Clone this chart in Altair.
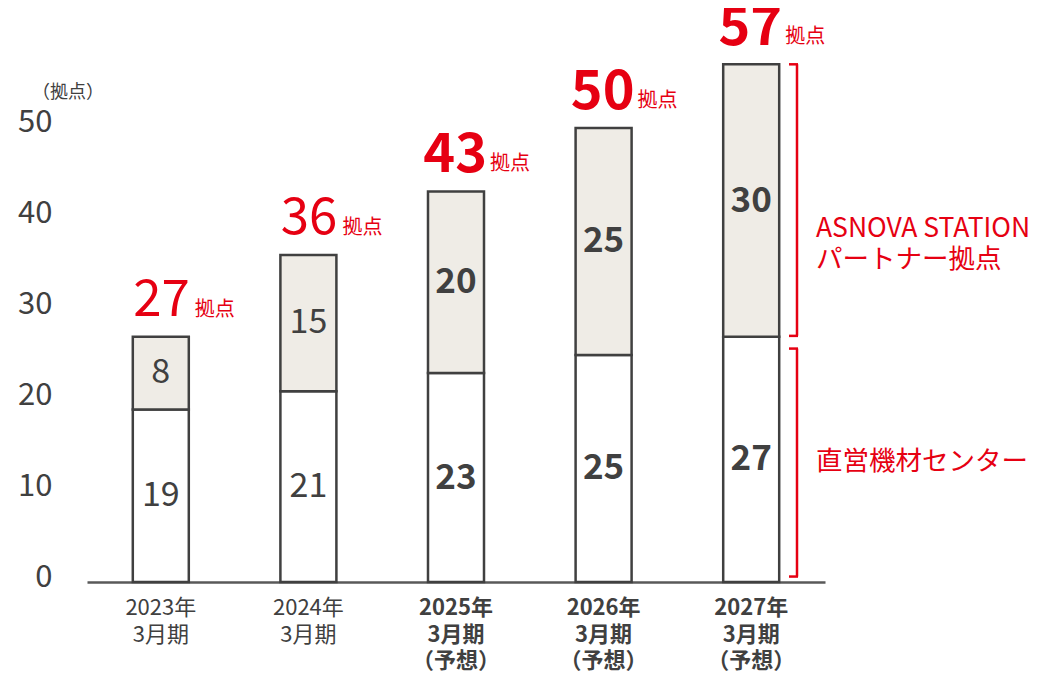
import altair as alt
import pandas as pd

periods = ["2023", "2024", "2025", "2026", "2027"]
x_labels = ["2023年\n3月期", "2024年\n3月期", "2025年\n3月期\n（予想）", "2026年\n3月期\n（予想）", "2027年\n3月期\n（予想）"]
direct = [19, 21, 23, 25, 27]
partner = [8, 15, 20, 25, 30]
forecast = [False, False, True, True, True]
y_ticks = [0, 10, 20, 30, 40, 50]

FONT = "Noto Sans CJK JP"
RED = "#E60012"
DARK = "#404040"

rows = []
for p, d, s, f in zip(periods, direct, partner, forecast):
    rows.append(dict(period=p, seg="direct", start=0, end=d, mid=d / 2, val=d, fc=f))
    rows.append(dict(period=p, seg="partner", start=d, end=d + s, mid=d + s / 2, val=s, fc=f))
seg_df = pd.DataFrame(rows)
tot_df = pd.DataFrame(dict(period=periods, total=[d + s for d, s in zip(direct, partner)], fc=forecast, lab=x_labels))

xenc = alt.X("period:N", sort=periods, scale=alt.Scale(paddingInner=0, paddingOuter=0),
             axis=alt.Axis(title=None, labels=False, ticks=False, domainColor="#595959", domainWidth=2.5))
xs = alt.X("period:N", sort=periods)
yscale = alt.Scale(domain=[0, 63.2], nice=False)

bars = alt.Chart(seg_df).mark_bar(size=56, stroke=DARK, strokeWidth=2.5).encode(
    x=xenc,
    y=alt.Y("start:Q", scale=yscale,
            axis=alt.Axis(title=None, values=y_ticks, grid=False, domain=False, ticks=False, tickSize=0,
                          labelPadding=35, labelFontSize=31, labelColor=DARK, labelFont=FONT, labelOffset=-5)),
    y2="end:Q",
    fill=alt.Fill("seg:N", scale=alt.Scale(domain=["direct", "partner"], range=["#FFFFFF", "#EFECE6"]), legend=None),
)

seg_n = alt.Chart(seg_df).transform_filter("!datum.fc").mark_text(
    font=FONT, fontSize=34, color=DARK, baseline="middle", fontWeight="normal").encode(
    x=xs, y=alt.Y("mid:Q", scale=yscale), text="val:Q")
seg_b = alt.Chart(seg_df).transform_filter("datum.fc").mark_text(
    font=FONT, fontSize=35, color=DARK, baseline="middle", fontWeight="bold").encode(
    x=xs, y=alt.Y("mid:Q", scale=yscale), text="val:Q")

tot_n = alt.Chart(tot_df).transform_filter("!datum.fc").mark_text(
    font=FONT, fontSize=51, color=RED, align="right", baseline="alphabetic", dx=29, dy=-21, fontWeight="normal").encode(
    x=xs, y=alt.Y("total:Q", scale=yscale), text="total:Q")
tot_b = alt.Chart(tot_df).transform_filter("datum.fc").mark_text(
    font=FONT, fontSize=54, color=RED, align="right", baseline="alphabetic", dx=31, dy=-19, fontWeight="bold").encode(
    x=xs, y=alt.Y("total:Q", scale=yscale), text="total:Q")

tot_unit = alt.Chart(tot_df).mark_text(font=FONT, fontSize=20, color=RED, align="left", baseline="alphabetic", dx=34, dy=-21).encode(
    x=xs, y=alt.Y("total:Q", scale=yscale), text=alt.value("拠点"))

xlab_n = alt.Chart(tot_df).transform_filter("!datum.fc").mark_text(
    font=FONT, fontSize=22, color=DARK, baseline="middle", lineBreak="\n", lineHeight=26.5, fontWeight="normal").encode(
    x=xs, y=alt.value(600), text="lab:N")
xlab_b = alt.Chart(tot_df).transform_filter("datum.fc").mark_text(
    font=FONT, fontSize=22, color=DARK, baseline="middle", lineBreak="\n", lineHeight=26.5, fontWeight="bold").encode(
    x=xs, y=alt.value(600), text="lab:N")

unit_lab = alt.Chart(pd.DataFrame({"t": ["（拠点）"]})).mark_text(font=FONT, fontSize=18, color=DARK, baseline="middle").encode(
    x=alt.value(-19), y=alt.value(85), text="t:N")

# brackets
last_total = direct[-1] + partner[-1]
br_up_df = pd.DataFrame(dict(top=[last_total], bot=[direct[-1] + 0.1]))
br_lo_df = pd.DataFrame(dict(top=[direct[-1] - 1.3], bot=[0.6]))

def bracket(df):
    base = alt.Chart(df)
    v = base.mark_rule(color=RED, strokeWidth=2.5).encode(
        x=alt.value(710), y=alt.Y("top:Q", scale=yscale), y2="bot:Q")
    h1 = base.mark_rule(color=RED, strokeWidth=2.5).encode(
        x=alt.value(702), x2=alt.value(711), y=alt.Y("top:Q", scale=yscale))
    h2 = base.mark_rule(color=RED, strokeWidth=2.5).encode(
        x=alt.value(702), x2=alt.value(711), y=alt.Y("bot:Q", scale=yscale))
    return v + h1 + h2

br_up = bracket(br_up_df)
br_lo = bracket(br_lo_df)

ann_up = alt.Chart(pd.DataFrame({"t": ["ASNOVA STATION\nパートナー拠点"], "yy": [221]})).mark_text(
    font=FONT, fontSize=26.5, color=RED, align="left", baseline="middle", lineBreak="\n", lineHeight=31).encode(
    x=alt.value(729), y=alt.Y("yy:Q", scale=None), text="t:N")
ann_lo = alt.Chart(pd.DataFrame({"t": ["直営機材センター"], "yy": [454]})).mark_text(
    font=FONT, fontSize=26.5, color=RED, align="left", baseline="middle").encode(
    x=alt.value(729), y=alt.Y("yy:Q", scale=None), text="t:N")

chart = alt.layer(bars, seg_n, seg_b, tot_n, tot_b, tot_unit, xlab_n, xlab_b, unit_lab, br_up, br_lo, ann_up, ann_lo).properties(
    width=738, height=574,
    autosize=alt.AutoSizeParams(type="none"),
    padding={"left": 79, "top": 0, "right": 215, "bottom": 90},
    background="white",
).configure_view(stroke=None)

chart.save("out.html", embed_options={"renderer": "svg", "actions": False})
